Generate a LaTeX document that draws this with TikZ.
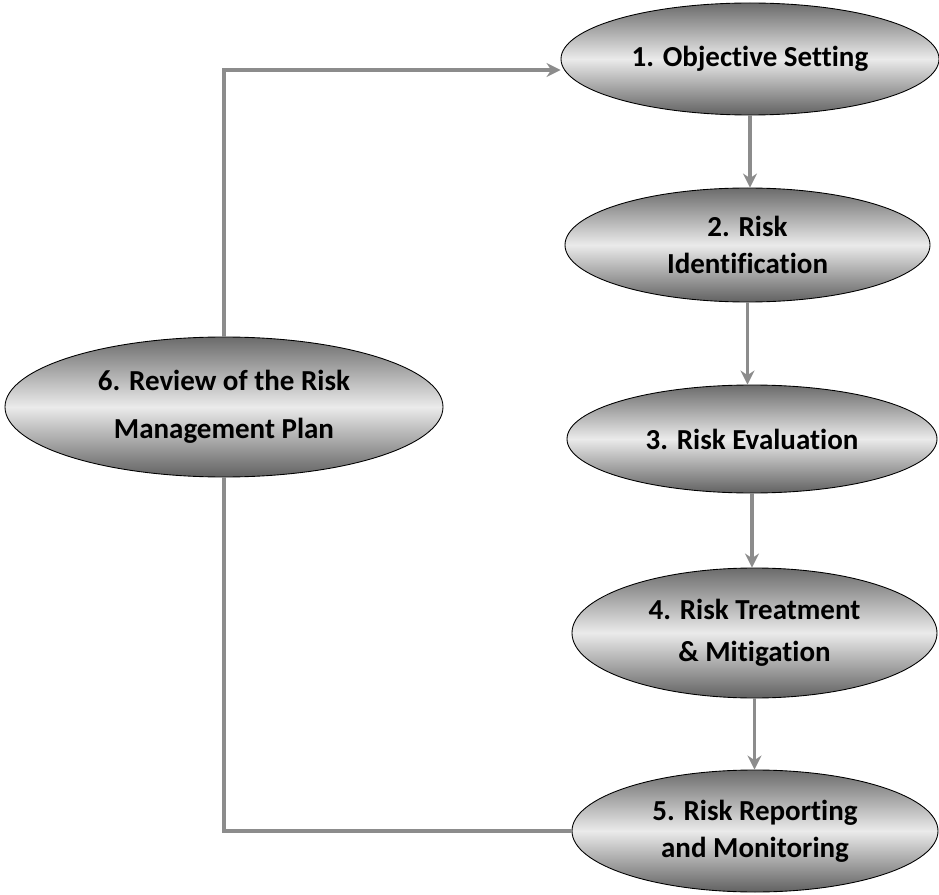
\documentclass[tikz,border=0pt]{standalone}
\usepackage{fontspec}
\setmainfont{Carlito}[Ligatures=NoCommon]
\usetikzlibrary{arrows.meta,shapes.geometric}

\begin{document}
\begin{tikzpicture}[
    stage/.style={ellipse,draw=black,line width=0.5pt,inner sep=0pt,
        top color=black!58,bottom color=black!62,middle color=black!8,
        align=center,font=\bfseries\fontsize{16.5}{21}\selectfont},
    flow/.style={draw=black!45,line width=2pt,
        -{Stealth[length=2.8mm,width=2.8mm]}},
    back/.style={draw=black!45,line width=2pt}]

    \useasboundingbox (0,0) rectangle (18.78,-17.9);

    \node[stage,minimum width=7.56cm,minimum height=2.24cm] (obj) at (15.0,-1.18) {1. Objective Setting};
    \node[stage,minimum width=7.3cm,minimum height=2.28cm] (ident) at (14.95,-4.9) {2. Risk\\Identification};
    \node[stage,minimum width=7.4cm,minimum height=2.16cm] (eval) at (15.04,-8.78) {3. Risk Evaluation};
    \node[stage,minimum width=7.3cm,minimum height=2.6cm] (treat) at (15.09,-12.66) {4. Risk Treatment\\[3pt]\& Mitigation};
    \node[stage,minimum width=7.32cm,minimum height=2.44cm] (report) at (15.1,-16.62) {5. Risk Reporting\\and Monitoring};
    \node[stage,minimum width=8.76cm,minimum height=2.8cm] (review) at (4.48,-8.14) {6. Review of the Risk\\[6pt]Management Plan};

    % main chain
    \draw[flow] (obj.south) -- (obj.south |- ident.north);
    \draw[flow] (ident.south) -- (ident.south |- eval.north);
    \draw[flow] (eval.south) -- (eval.south |- treat.north);
    \draw[flow] (treat.south) -- (treat.south |- report.north);

    % feedback loop
    \draw[back] (report.west) -| (review.south);
    \draw[flow] (review.north) |- ([yshift=-0.22cm]obj.west);

\end{tikzpicture}
\end{document}
